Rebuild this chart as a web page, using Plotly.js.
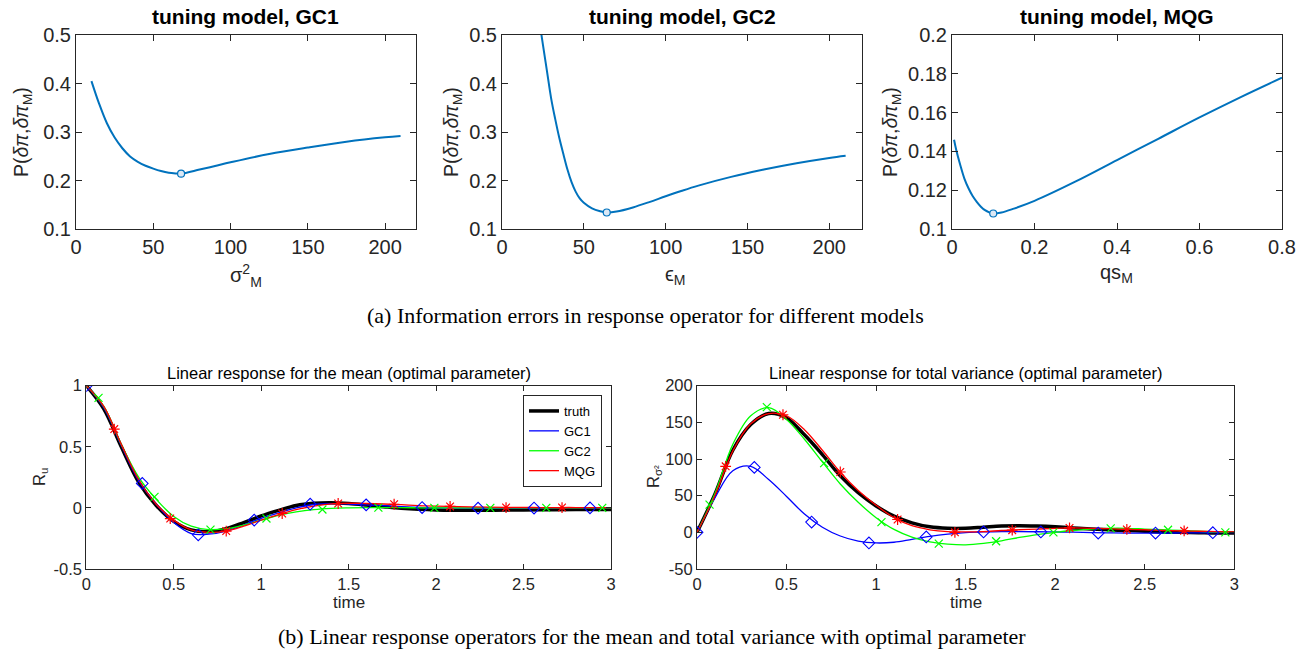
<!DOCTYPE html>
<html><head><meta charset="utf-8">
<script src="https://cdn.plot.ly/plotly-3.0.1.min.js"></script>
<style>html,body{margin:0;padding:0;background:#fff}#chart{width:1310px;height:651px}</style>
</head><body><div id="chart"></div>
<script>
// ---------- (a) tuning curves ----------
const gc1X = [10,15,20,25,30,35,40,45,50,55,60,65,68,80,90,100,125,150,175,200,210];
const gc1P = [0.405,0.358,0.318,0.2885,0.2665,0.2495,0.2385,0.2305,0.2245,0.2195,0.216,0.2145,0.214,0.2225,0.23,0.2375,0.2546,0.268,0.28,0.289,0.2917];
const gc1OptX = [68], gc1OptP = [0.214];

const gc2X = [23.5,25,27.5,30,32.5,35,37.5,40,42.5,45,47.5,50,55,60,64,70,80,90,100,110,120,140,160,180,200,210];
const gc2P = [0.514,0.48,0.425,0.37,0.327,0.288,0.2545,0.2225,0.1965,0.177,0.163,0.154,0.1425,0.1365,0.134,0.136,0.1445,0.1555,0.1675,0.179,0.1895,0.2075,0.2225,0.2355,0.2465,0.251];
const gc2OptX = [64], gc2OptP = [0.134];

const mqgX = [0.005,0.01,0.02,0.03,0.04,0.05,0.06,0.07,0.08,0.09,0.1,0.12,0.15,0.2,0.3,0.4,0.5,0.6,0.7,0.8];
const mqgP = [0.146,0.141,0.133,0.126,0.121,0.117,0.114,0.1115,0.1097,0.1086,0.108,0.1085,0.1105,0.1145,0.1245,0.1355,0.1465,0.1575,0.168,0.178];
const mqgOptX = [0.1], mqgOptP = [0.108];

// ---------- (b) linear response for the mean ----------
const meanT = [0,0.1,0.2,0.3,0.4,0.5,0.6,0.7,0.8,0.9,1.0,1.1,1.2,1.3,1.4,1.5,1.6,1.7,1.8,1.9,2.0,2.2,2.4,2.6,2.8,3.0];
const truthMean = [1,0.81,0.5,0.21,0.02,-0.11,-0.18,-0.195,-0.17,-0.12,-0.065,-0.02,0.02,0.038,0.042,0.036,0.024,0.01,-0.003,-0.012,-0.017,-0.02,-0.018,-0.016,-0.014,-0.013];
const gc1Mean = [1,0.82,0.51,0.22,0.03,-0.12,-0.21,-0.215,-0.19,-0.14,-0.085,-0.04,0.0,0.028,0.035,0.032,0.025,0.018,0.01,0.004,0.0,-0.002,-0.002,-0.001,0,0];
const gc2Mean = [1,0.83,0.52,0.25,0.07,-0.07,-0.15,-0.178,-0.17,-0.14,-0.1,-0.062,-0.033,-0.014,-0.004,0.0,0.002,0.002,0.002,0.001,0.0,0,0,0,0,0];
const mqgMean = [1,0.83,0.52,0.23,0.03,-0.1,-0.18,-0.2,-0.19,-0.15,-0.1,-0.055,-0.015,0.015,0.033,0.038,0.036,0.032,0.026,0.019,0.014,0.008,0.004,0.003,0.003,0.002];

const gc1MarkT = [0,0.32,0.64,0.96,1.28,1.6,1.92,2.24,2.56,2.88];
const gc2MarkT = [0.07,0.39,0.71,1.03,1.35,1.67,1.99,2.31,2.63,2.95];
const mqgMarkT = [0.16,0.48,0.8,1.12,1.44,1.76,2.08,2.4,2.72];
const gc1MeanMark = [1,0.2,-0.22,-0.1,0.03,0.025,0.003,-0.002,-0.001,0];
const gc2MeanMark = [0.9,0.09,-0.178,-0.087,-0.013,0.002,0,0,0,0];
const mqgMeanMark = [0.645,-0.087,-0.19,-0.046,0.036,0.03,0.012,0.003,0.003];

// ---------- (b) linear response for total variance ----------
const varT = [0,0.1,0.2,0.3,0.4,0.5,0.6,0.7,0.8,0.9,1.0,1.1,1.2,1.3,1.4,1.5,1.6,1.7,1.8,1.9,2.0,2.1,2.2,2.3,2.4,2.5,2.6,2.7,2.8,2.9,3.0];
const truthVar = [0,52,112,147,162,156,133,106,77,54,36,22,13,7.5,5.5,5.5,7,8.5,9,8.5,7.5,6,4.5,3.5,2.5,1.5,0.5,0,-0.5,-1,-1];
const gc1Var = [0,47,84,90,72,49,25,7,-5,-12,-14.5,-13.5,-9.5,-5.5,-2.5,-0.5,0.5,1,1,0.8,0.5,0.2,-0.3,-0.7,-1,-1,-1,-0.8,-0.6,-0.5,-0.5];
const gc2Var = [0,53,120,159,170,154,127,96,66,41,20,4,-6.5,-13,-16,-17,-15,-11.5,-7,-3,0,2.5,4.5,5.5,5.5,4.5,3.5,2.5,1.5,0.5,0];
const mqgVar = [0,50,111,148,162,159,140,112,82,57,37,20,9,3.5,1,0.5,1,2.5,3.5,4.5,5.5,6,5.5,5,4,3.5,2.5,2,1.5,1,0.5];
const gc1VarMark = [0,88.6,14,-14.5,-6.3,0.5,0.5,-1,-1,-0.5];
const gc2VarMark = [37.7,170.8,94.5,14,-15.4,-12.2,0,5.5,3.5,0];
const mqgVarMark = [90,160.4,82.3,17.5,0,3,6,4,2];

// tick labels
const topGCTicks = [0,50,100,150,200];
const topPTicks = [0.1,0.2,0.3,0.4,0.5];
const mqgXTicks = [0,0.2,0.4,0.6,0.8];
const mqgPTicks = [0.1,0.12,0.14,0.16,0.18,0.2];
const timeTicks = [0,0.5,1,1.5,2,2.5,3];
const meanTicks = [-0.5,0,0.5,1];
const meanTickText = ['-0.5','0','0.5','1'];
const varTicks = [-50,0,50,100,150,200];
const varTickText = ['-50','0','50','100','150','200'];

// ---------- layout helpers ----------
const W = 1310, H = 651;
const fx = p => p / W, fy = p => 1 - p / H;
const AX = '#262626';
const FONT = 'Liberation Sans, Arial, Helvetica, sans-serif';
function ax(domain, range, tickvals, ticktext, size, len) {
  const o = {domain: domain, range: range, tickmode: 'array', tickvals: tickvals,
    showline: true, linecolor: AX, linewidth: 1, mirror: 'ticks', ticks: 'inside',
    ticklen: len, tickwidth: 1, tickcolor: AX, showgrid: false, zeroline: false,
    tickfont: {family: FONT, size: size, color: AX}, fixedrange: true};
  if (ticktext) o.ticktext = ticktext;
  return o;
}
const TB = '#0072BD';
const topLine = {color: TB, width: 2, shape: 'spline', smoothing: 1};
const optMarker = {symbol: 'circle', size: 7, color: '#dbe8f5', line: {color: TB, width: 1.2}};

const traces = [
  {x: gc1X, y: gc1P, xaxis: 'x', yaxis: 'y', mode: 'lines', line: topLine, showlegend: false},
  {x: gc1OptX, y: gc1OptP, xaxis: 'x', yaxis: 'y', mode: 'markers', marker: optMarker, showlegend: false},
  {x: gc2X, y: gc2P, xaxis: 'x2', yaxis: 'y2', mode: 'lines', line: topLine, showlegend: false},
  {x: gc2OptX, y: gc2OptP, xaxis: 'x2', yaxis: 'y2', mode: 'markers', marker: optMarker, showlegend: false},
  {x: mqgX, y: mqgP, xaxis: 'x3', yaxis: 'y3', mode: 'lines', line: topLine, showlegend: false},
  {x: mqgOptX, y: mqgOptP, xaxis: 'x3', yaxis: 'y3', mode: 'markers', marker: optMarker, showlegend: false}
];

const colors = {truth: '#000000', gc1: '#0000FF', gc2: '#00FF00', mqg: '#FF0000'};
const mk = {
  gc1: {symbol: 'diamond-open', size: 9, color: colors.gc1, line: {width: 1.1}},
  gc2: {symbol: 'x-thin-open', size: 8, color: colors.gc2, line: {width: 1.2, color: colors.gc2}},
  mqg: {symbol: 'asterisk-open', size: 9, color: colors.mqg, line: {width: 1.2, color: colors.mqg}}
};
function respTraces(xa, ya, T, tr, g1, g2, mq, m1, m2, m3, legend) {
  return [
    {x: T, y: tr, xaxis: xa, yaxis: ya, mode: 'lines', name: 'truth', line: {color: colors.truth, width: 3.5, shape: 'spline'}, showlegend: legend},
    {x: T, y: g1, xaxis: xa, yaxis: ya, mode: 'lines', name: 'GC1', line: {color: colors.gc1, width: 1.3, shape: 'spline'}, showlegend: legend},
    {x: T, y: g2, xaxis: xa, yaxis: ya, mode: 'lines', name: 'GC2', line: {color: colors.gc2, width: 1.3, shape: 'spline'}, showlegend: legend},
    {x: T, y: mq, xaxis: xa, yaxis: ya, mode: 'lines', name: 'MQG', line: {color: colors.mqg, width: 1.3, shape: 'spline'}, showlegend: legend},
    {x: gc1MarkT, y: m1, xaxis: xa, yaxis: ya, mode: 'markers', marker: mk.gc1, showlegend: false},
    {x: gc2MarkT, y: m2, xaxis: xa, yaxis: ya, mode: 'markers', marker: mk.gc2, showlegend: false},
    {x: mqgMarkT, y: m3, xaxis: xa, yaxis: ya, mode: 'markers', marker: mk.mqg, showlegend: false}
  ];
}
traces.push(...respTraces('x4', 'y4', meanT, truthMean, gc1Mean, gc2Mean, mqgMean, gc1MeanMark, gc2MeanMark, mqgMeanMark, true));
traces.push(...respTraces('x5', 'y5', varT, truthVar, gc1Var, gc2Var, mqgVar, gc1VarMark, gc2VarMark, mqgVarMark, false));

const topY = [fy(229), fy(35)];
const botY = [fy(569), fy(385.7)];
const TS = 20, BS = 16.5;
const layout = {
  width: W, height: H, margin: {l: 0, r: 0, t: 0, b: 0},
  paper_bgcolor: '#fff', plot_bgcolor: '#fff', showlegend: true,
  xaxis:  ax([fx(76), fx(416)], [0, 220], topGCTicks, null, TS, 6),
  yaxis:  Object.assign(ax(topY, [0.1, 0.5], topPTicks, null, TS, 6), {anchor: 'x'}),
  xaxis2: Object.assign(ax([fx(502), fx(862)], [0, 220], topGCTicks, null, TS, 6), {anchor: 'y2'}),
  yaxis2: Object.assign(ax(topY, [0.1, 0.5], topPTicks, null, TS, 6), {anchor: 'x2'}),
  xaxis3: Object.assign(ax([fx(952), fx(1282)], [0, 0.8], mqgXTicks, null, TS, 6), {anchor: 'y3'}),
  yaxis3: Object.assign(ax(topY, [0.1, 0.2], mqgPTicks, null, TS, 6), {anchor: 'x3'}),
  xaxis4: Object.assign(ax([fx(86.3), fx(611)], [0, 3], timeTicks, null, BS, 5), {anchor: 'y4'}),
  yaxis4: Object.assign(ax(botY, [-0.5, 1], meanTicks, meanTickText, BS, 5), {anchor: 'x4'}),
  xaxis5: Object.assign(ax([fx(697), fx(1234.3)], [0, 3], timeTicks, null, BS, 5), {anchor: 'y5'}),
  yaxis5: Object.assign(ax(botY, [-50, 200], varTicks, varTickText, BS, 5), {anchor: 'x5'}),
  legend: {x: fx(602), xanchor: 'right', y: fy(395), yanchor: 'top', bgcolor: '#fff',
    bordercolor: AX, borderwidth: 1, font: {family: FONT, size: 13, color: '#000'},
    tracegroupgap: 0, itemwidth: 30},
  annotations: []
};
function txt(x, y, text, size, opts) {
  layout.annotations.push(Object.assign({xref: 'paper', yref: 'paper', x: fx(x), y: fy(y), text: text,
    showarrow: false, xanchor: 'center', yanchor: 'middle',
    font: {family: FONT, size: size, color: '#000'}}, opts || {}));
}
// titles
txt(245, 17, '<b>tuning model, GC1</b>', 21);
txt(682, 17, '<b>tuning model, GC2</b>', 21);
txt(1117, 17, '<b>tuning model, MQG</b>', 21);
// y titles top
const pLab = 'P(<i>δπ</i>,<i>δπ</i><sub>M</sub>)';
txt(22, 132, pLab, 19.5, {textangle: -90, font: {family: FONT, size: 19.5, color: AX}});
txt(452, 132, pLab, 19.5, {textangle: -90, font: {family: FONT, size: 19.5, color: AX}});
txt(891, 132, pLab, 19.5, {textangle: -90, font: {family: FONT, size: 19.5, color: AX}});
// x titles top
txt(246, 276, 'σ<sup>2</sup><sub>M</sub>', 20, {font: {family: FONT, size: 20, color: AX}});
txt(676, 276, 'ϵ<sub>M</sub>', 20, {font: {family: FONT, size: 20, color: AX}});
txt(1116, 273, 'qs<sub>M</sub>', 20, {font: {family: FONT, size: 20, color: AX}});
// captions
const SERIF = 'Liberation Serif, Times New Roman, serif';
txt(645, 315, '(a) Information errors in response operator for different models', 22, {font: {family: SERIF, size: 22, color: '#000'}});
txt(652, 636, '(b) Linear response operators for the mean and total variance with optimal parameter', 22, {font: {family: SERIF, size: 22, color: '#000'}});
// bottom titles
txt(348.5, 373, 'Linear response for the mean (optimal parameter)', 16.5, {font: {family: FONT, size: 16.5, color: '#000'}});
txt(965.5, 373, 'Linear response for total variance (optimal parameter)', 16.5, {font: {family: FONT, size: 16.5, color: '#000'}});
txt(348.5, 602, 'time', 17, {font: {family: FONT, size: 17, color: AX}});
txt(965.5, 602, 'time', 17, {font: {family: FONT, size: 17, color: AX}});
txt(40, 477, 'R<sub>u</sub>', 16.5, {textangle: -90, font: {family: FONT, size: 16.5, color: AX}});
txt(654, 477, 'R<sub>σ²</sub>', 16.5, {textangle: -90, font: {family: FONT, size: 16.5, color: AX}});

Plotly.newPlot('chart', traces, layout, {staticPlot: true, displayModeBar: false});
</script></body></html>
